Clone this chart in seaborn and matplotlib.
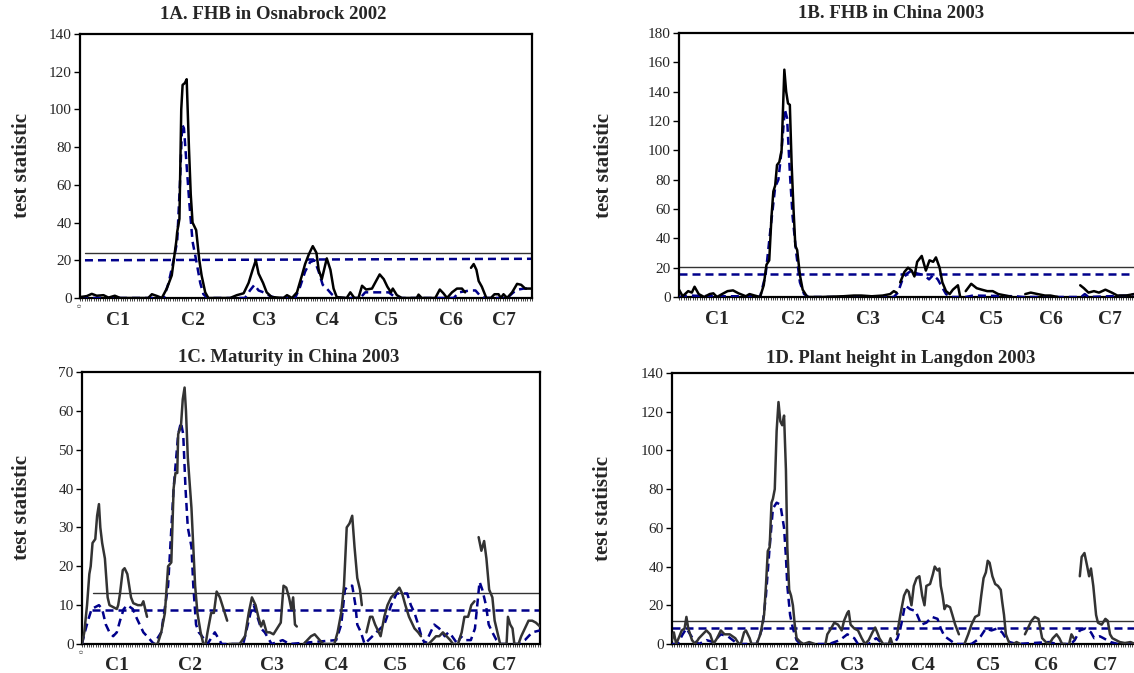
import numpy as np
import pandas as pd
import matplotlib
matplotlib.use("Agg")
import matplotlib.pyplot as plt
import matplotlib.transforms as mtransforms
import seaborn as sns

nan = np.nan

# ---------------- DATA (x = genome position, % of map; y = test statistic) ----------------
chrom_labels = ["C1", "C2", "C3", "C4", "C5", "C6", "C7"]

# Panel 1A
a_title = "1A. FHB in Osnabrock 2002"
a_solid_x = [0, 1.5, 2.6, 3.7, 5.2, 6.3, 7.7, 8.9, 15.1, 15.9, 17.1, 18.1, 19.2, 20.3, 21.3, 21.5, 22.0, 22.4,
             22.7, 23.2, 23.6, 24.1, 24.5, 24.9, 25.7, 26.4, 26.9, 27.7, 28.4, 33.2, 34.7, 36.2, 37.3, 38.2, 38.9,
             39.5, 40.5, 41.3, 42.4, 45.0, 45.8, 46.9, 48.0, 49.1, 49.8, 50.6, 51.5, 52.3, 52.8, 53.5, 54.1, 54.6,
             55.4, 56.1, 56.8, 59.0, 59.8, 60.7, 61.6, 62.4, 63.3, 64.6, 65.5, 66.3, 67.2, 68.0, 68.8, 69.2, 70.1,
             71.2, 74.5, 74.9, 75.6, 78.6, 79.6, 80.4, 81.2, 82.3, 83.4, 84.5, 85.2, nan,
             86.5, 87.1, 87.7, 88.2, 88.9, 89.9, 90.9, 91.7, 92.6, 93.1, 93.7, 94.5, 95.6, 96.7, 97.6, 98.5, 100]
a_solid_y = [0.5, 1, 2.2, 1.2, 1.5, 0.2, 1.2, 0, 0, 2, 1, 0, 5, 12, 30, 35, 42, 100,
             113, 114, 116, 80, 55, 40, 36, 20, 12, 3, 0, 0, 1.5, 2.5, 8, 15, 20,
             13, 8, 3, 0.5, 0, 1.5, 0, 3, 12, 18, 23, 27.5, 24, 15, 10, 16, 21,
             15, 5, 0.5, 0, 3, 0, 0, 6.5, 4.5, 5, 9, 12.5, 10, 6, 3, 5, 1.5,
             0, 0, 1.8, 0, 0, 4.5, 2.5, 0, 3, 5, 5, 3, nan,
             16, 18, 15, 9, 6, 0, 0, 2, 2, 0, 2, 0, 3, 7.5, 7, 5, 5]
a_blue_x = [0, 18.5, 19.6, 20.7, 21.5, 22.1, 22.6, 23.0, 23.6, 24.2, 24.9, 25.7, 26.6, 27.3, 28.2, 36.5, 37.6,
            38.6, 39.5, 40.6, 42.1, 43.5, 47.6, 48.7, 49.8, 50.9, 51.9, 52.8, 53.7, 54.6, 55.7, 56.8, 62.0, 63.1,
            65.7, 68.3, 69.4, 70.5, 82.7, 83.8, 86.3, 87.5, 88.6, 89.7, 94.5, 95.9, 97.0, 98.2, 100]
a_blue_y = [0, 0, 8, 20, 30, 60, 92, 90, 70, 50, 30, 20, 8, 2, 0, 0, 4,
            7, 4, 3, 1, 0, 0, 6, 14, 19, 20, 14, 7, 5, 2, 0, 0, 3,
            3, 3, 1, 0, 0, 3, 4, 4, 1, 0, 0, 3, 4.5, 5, 5]
a_thr_x = [1.1, 100]
a_thr_solid = [24, 24]
a_thr_dashed = [20, 20.8]

# Panel 1B
b_title = "1B. FHB in China 2003"
b_solid_x = [0, 0.8, 2.0, 2.8, 3.4, 4.3, 5.5, 6.7, 7.5, 8.3, 9.4, 10.6, 11.8, 13.0, 14.6, 15.4, 16.5, 17.7,
             18.5, 19.1, 19.7, 20.2, 20.6, 21.0, 21.4, 21.9, 22.4, 23.0, 23.4, 23.8, 24.2, 24.6, 25.0, 25.4,
             25.8, 26.4, 27.0, 28.0, 31.1, 35.8, 38.2, 39.8, 42.1, 44.5, 46.1, 46.9, 47.5, nan,
             48.3, 49.2, 50.0, 50.8, 51.4, 52.0, 53.0, 53.9, 54.7, 55.5, 56.1, 56.9, 57.5, 58.3, 59.1, 59.8,
             60.9, 61.4, nan,
             62.6, 63.8, 65.0, 66.1, 67.3, 68.5, 69.7, 71.3, 72.8, nan,
             75.6, 76.8, 78.3, 79.9, 81.1, 82.7, nan,
             87.6, 88.4, 89.4, 90.6, 91.7, 93.1, 94.5, 95.7, 97.6, 99.4]
b_solid_y = [5, 0.5, 4, 3, 7, 2, 0, 2, 2.5, 0, 2, 4, 4.5, 2.5, 0.5, 2, 1, 0,
             8, 22, 25, 55, 72, 76, 90, 92, 100, 155, 140, 132, 131, 90, 60, 35,
             32, 15, 5, 0, 0, 0.5, 1, 1, 0.5, 1, 2, 4, 3, nan,
             10, 17, 20, 18, 14, 24, 28, 18, 25, 24, 27, 20, 10, 4, 2, 5,
             8, 0, nan,
             4, 9, 6, 5, 4, 4, 2, 1, 0, nan,
             2, 3, 2, 1, 1, 0, nan,
             8, 6, 3, 4, 3, 5, 3, 1, 1, 2]
b_blue_x = [0, 2.0, 7.5, 15.4, 17.7, 18.9, 20.1, 21.0, 21.7, 22.4, 23.1, 23.6, 24.2, 24.8, 25.6, 26.4, 27.3,
            28.3, 46.9, 47.8, 48.8, 49.8, 50.8, 52.0, 53.5, 54.6, 55.5, 56.5, 57.2, 58.3, 59.4, 62.6, 64.2,
            73.5, 75.1, 87.8, 88.6, 89.4, 98.0, 99.4]
b_blue_y = [0, 1, 0.5, 0.5, 0, 15, 50, 75, 80, 100, 128, 122, 85, 55, 30, 10, 2,
            0, 0, 3, 12, 16, 18, 16, 15, 12, 15, 12, 8, 2, 0, 0, 1,
            0.5, 0, 0, 2, 0, 1, 2]
b_thr_x = [0, 100]
b_thr_solid = [20.5, 20.5]
b_thr_dashed = [16, 16]

# Panel 1C
c_title = "1C. Maturity in China 2003"
c_solid_x = [0, 0.5, 1.1, 1.6, 1.9, 2.3, 2.9, 3.3, 3.7, 4.0, 4.4, 5.0, 5.6, 6.0, 6.8, 7.6, 7.9, 8.3, 8.9,
             9.3, 9.9, 10.3, 10.7, 11.2, 12.2, 13.0, 13.4, 13.8, 14.2, nan,
             15.3, 16.5, 17.3, 18.1, 18.8, 19.5, 20.0, 20.4, 20.8, 21.0, 21.6, 22.0, 22.4, 22.7, 23.1, 23.9,
             24.3, 24.7, 25.2, 25.9, 26.5, 27.0, 27.4, 28.2, 28.8, 29.4, 30.1, 30.9, 31.7, nan,
             32.1, 34.4, 35.6, 36.4, 37.1, 37.9, 38.5, 39.1, 39.6, 40.3, 41.0, 41.8, 42.6, 43.4, 44.0, 44.6,
             45.2, 45.7, 46.1, 46.5, 46.9, nan,
             48.4, 50.0, 50.8, 51.9, 52.7, 55.1, 55.8, 56.6, 57.2, 57.8, 58.4, 59.0, 59.5, 60.1, 60.7, 61.1, nan,
             62.1, 62.9, 63.4, 64.0, 64.8, 65.2, 66.0, 66.7, 67.5, 68.3, 69.3, 69.9, 70.6, 71.4, 71.8, 72.6,
             73.4, 74.0, nan,
             74.9, 75.7, 76.5, 77.3, 78.0, 78.8, 79.6, 80.4, 81.0, 82.1, 82.9, 83.5, 84.3, 85.0, 85.7, nan,
             86.6, 87.2, 87.8, 88.3, 88.9, 89.6, 90.1, 90.7, 91.3, 92.7, 93.0, 93.5, 94.0, 94.4, 95.3, 95.9,
             96.7, 97.5, 98.3, 99.1, 100]
c_solid_y = [0, 3, 10, 18, 20, 26, 27, 33, 36, 30, 26, 22, 12, 10, 9.5, 9, 10, 13, 19,
             19.5, 18, 15, 12, 10.5, 10, 10, 11, 9, 7, nan,
             0, 0, 3, 8, 20, 21, 40, 44, 44, 54, 56, 63, 66, 60, 48, 35,
             25, 15, 8, 3, 0, 0, 3, 8, 8, 13.5, 12, 9, 6, nan,
             0, 0, 2, 8, 12, 10, 7, 4.5, 6, 3, 3, 2.5, 4, 5.5, 15, 14.5,
             12, 9, 12, 5, 4.5, nan,
             0, 2, 2.5, 1, 0, 0, 3, 8, 15, 30, 31, 33, 25, 17, 14, 10, nan,
             3, 7, 7, 5, 3, 2, 7, 10, 12, 13, 14.5, 13, 10, 7, 6, 4,
             3, 2, nan,
             0, 0, 1, 2, 2, 3, 2, 1, 0, 0, 3, 7, 7, 10, 11, nan,
             27.5, 24, 26.5, 22, 14, 12, 6, 3, 0, 0, 7, 5, 4, 0, 0, 2,
             4, 6, 6, 5.5, 4.5]
c_blue_x = [0, 0.5, 1.3, 2.1, 3.7, 4.4, 5.2, 6.0, 6.8, 7.6, 8.3, 9.1, 9.9, 11.1, 11.8, 12.6, 13.4, 14.2,
            15.7, 17.3, 18.8, 20.0, 21.0, 21.6, 22.1, 22.6, 23.1, 23.9, 24.3, 24.9, 25.5, 26.2, 27.4, 29.0,
            30.5, 35.2, 36.8, 37.5, 38.3, 39.1, 39.9, 41.4, 43.8, 45.3, 55.5, 56.6, 57.4, 58.2, 59.0, 59.7,
            60.1, 60.9, 61.7, 66.0, 67.5, 68.7, 69.9, 71.0, 71.8, 72.6, 73.4, 74.1, 74.9, 75.7, 76.9, 78.0,
            79.2, 80.0, 80.8, 82.0, 82.7, 83.5, 84.9, 85.8, 86.8, 87.4, 88.2, 88.8, 89.6, 90.5, 91.3, 95.2,
            96.7, 98.3, 100]
c_blue_y = [0, 2.5, 6, 9, 10, 9, 5, 3, 2, 3, 6, 9, 10, 9, 7, 5, 3, 2,
            0, 3, 15, 40, 54, 57, 54, 40, 30, 25, 15, 5, 3, 2, 0, 3,
            0, 0, 8, 10, 7, 4, 3, 0, 1, 0, 1, 5, 14, 15, 15, 10,
            5, 3, 0, 5, 10, 13, 13, 13, 10, 8, 5, 2, 0, 2, 5, 4,
            2, 3, 2, 0, 2, 1, 1, 4, 16, 14, 10, 5, 3, 1, 0, 0,
            1, 3, 3.5]
c_thr_solid_x = [2.5, 100]
c_thr_dashed_x = [2.1, 100]
c_thr_solid = [13, 13]
c_thr_dashed = [8.7, 8.7]

# Panel 1D
d_title = "1D. Plant height in Langdon 2003"
d_solid_x = [0, 0.4, 0.9, 1.6, 2.1, 2.7, 3.1, 3.5, 4.3, 5.0, 5.8, 6.6, 7.4, 8.2, 8.9, 9.7, 10.5, 11.3,
             12.4, 13.6, 14.4, 14.8, 15.5, 15.9, 16.7, 17.1, 18.2, 19.0, 19.8, 20.2, 20.6, 21.0, 21.4, 21.7,
             22.1, 22.5, 22.9, 23.3, 23.7, 24.1, 24.5, 24.8, 25.2, 25.6, 26.0, 26.4, 26.8, 27.6, 28.3, 29.5,
             30.7, nan,
             33.0, 33.4, 34.2, 34.9, 35.7, 36.5, 37.0, 37.7, 38.0, 38.4, 39.2, 40.0, 40.8, 41.5, 42.3, 43.1,
             43.7, 44.3, 44.6, 45.4, 46.2, nan, 46.6, 47.0, 47.4, nan,
             48.4, 49.1, 49.9, 50.5, 50.9, 51.5, 52.0, 52.6, 53.2, 53.8, 54.3, 54.7, 55.5, 56.1, 56.5, 57.1,
             57.5, 57.8, 58.2, 58.6, 59.0, 59.8, 60.3, 60.9, 61.7, nan,
             62.9, 63.7, 64.4, 65.2, 66.0, 66.5, 67.0, 67.5, 67.9, 68.3, 68.9, 69.5, 70.1, 70.7, 71.0, 71.4,
             71.8, 72.6, 73.4, 74.1, 74.9, nan,
             75.9, 76.5, 77.3, 78.0, 78.8, 79.2, 79.6, 80.4, 81.1, 81.9, 82.7, 83.3, 83.9, 84.6, nan,
             85.4, 85.9, 86.4, nan,
             87.7, 88.1, 88.7, 89.3, 89.7, 90.1, 90.6, 91.2, 91.6, 92.4, 93.2, 93.7, 94.2, 94.7, 95.5, 96.3,
             97.4, 98.6, 99.6]
d_solid_y = [2, 6, 0, 4, 7, 8, 14, 8, 2, 0, 3, 5, 7, 5, 0, 3, 7, 5,
             5, 3, 0, 0, 6, 7, 3, 0, 0, 5, 15, 30, 48, 50, 73, 75,
             80, 110, 125, 115, 113, 118, 90, 50, 28, 25, 20, 10, 3, 1, 0, 1,
             0, nan,
             0, 5, 8, 11, 10, 7, 12, 16, 17, 10, 8, 7, 3, 0, 2, 6,
             8.5, 5, 3, 0, 0, nan, 0, 3, 0, nan,
             5, 15, 25, 28, 27, 20, 30, 34, 35, 25, 20, 30, 31, 36, 40, 38,
             39, 30, 25, 18, 20, 19, 15, 10, 5, nan,
             0, 5, 10, 14, 15, 25, 34, 37, 43, 42, 35, 31, 30, 28, 22, 15,
             5, 0, 0, 1, 0, nan,
             5, 8, 12, 14, 13, 8, 3, 1, 0, 3, 5, 3, 0, 0, nan,
             0, 5, 3, nan,
             35, 45, 47, 40, 35, 39, 30, 15, 11, 10, 13, 12, 5, 3, 2, 1,
             0.5, 1, 0]
d_blue_x = [0, 1.2, 2.3, 3.1, 3.9, 4.7, 5.8, 7.4, 8.9, 10.5, 12.0, 13.6, 15.1, 18.2, 19.4, 20.2, 21.0, 21.7,
            22.5, 23.3, 24.1, 24.5, 24.8, 25.4, 26.0, 26.8, 27.6, 33.8, 36.1, 37.7, 39.2, 40.0, 42.3, 43.9,
            45.4, 47.7, 48.5, 49.3, 50.1, 51.2, 52.4, 53.6, 54.7, 55.9, 57.1, 57.8, 58.6, 59.8, 60.9, 64.4,
            65.6, 66.4, 67.5, 68.7, 69.9, 71.0, 71.8, 72.6, 74.1, 81.1, 82.7, 85.8, 86.6, 87.7, 88.9, 90.1,
            90.8, 92.0, 92.8, 94.3, 95.9, 99.6]
d_blue_y = [0, 0, 5, 8, 5, 2, 0, 2, 1, 5, 4, 1, 0, 0, 8, 25, 50, 70,
            73, 72, 60, 45, 30, 15, 8, 2, 0, 0, 2, 5, 3, 0, 0, 3,
            0, 0, 3, 10, 20, 18, 17, 10, 11, 14, 13, 8, 4, 2, 0, 0,
            2, 4, 8, 7, 8, 6, 3, 1, 0, 1, 0, 0, 2, 7, 8, 6,
            3, 4, 3, 1, 0, 0]
d_thr_x = [0, 100]
d_thr_solid = [12, 12]
d_thr_dashed = [8.3, 8.3]

# ---------------- STYLE ----------------
sns.set_theme(style="white")
plt.rcParams["font.family"] = ["Liberation Serif", "DejaVu Serif"]

fig = plt.figure(figsize=(11.34, 6.73), dpi=100)

NAVY = "#00008B"


def to_df(xs, ys):
    df = pd.DataFrame({"x": xs, "y": ys})
    df["seg"] = df["x"].isna().cumsum()
    return df.dropna()


def panel(rect, title, title_x, title_pad, ylim, ystep, solid, blue, thr, chrom_x, chrom_pad,
          solid_color, label_x, zero_tick=False):
    ax = fig.add_axes(rect)
    sdf = to_df(*solid)
    bdf = to_df(*blue)
    (ts_x, ts_y), (td_x, td_y) = thr
    ax.plot(ts_x, ts_y, color="#333333", lw=1.0, zorder=2)
    ax.plot(td_x, td_y, color=NAVY, lw=1.8, linestyle=(0, (3.2, 2.0)), zorder=2)
    sns.lineplot(data=bdf, x="x", y="y", units="seg", estimator=None, sort=False,
                 color=NAVY, lw=1.8, linestyle=(0, (3.2, 2.0)), ax=ax, zorder=3)
    sns.lineplot(data=sdf, x="x", y="y", units="seg", estimator=None, sort=False,
                 color=solid_color, lw=1.8, ax=ax, zorder=4)
    ax.set_xlim(0, 100)
    ax.set_ylim(*ylim)
    ax.set_yticks(np.arange(ylim[0], ylim[1] + 0.1, ystep))
    ax.set_xticks(chrom_x)
    ax.set_xticklabels(chrom_labels, fontweight="bold", fontsize=14)
    ax.set_xticks(np.arange(0, 100.01, 0.5), minor=True)
    ax.tick_params(axis="x", which="major", length=0, pad=chrom_pad)
    ax.tick_params(axis="x", which="minor", length=1.8, width=0.5, color="black", direction="out",
                   bottom=True)
    ax.tick_params(axis="y", which="major", length=4, width=1, color="black", direction="out",
                   left=True, labelsize=11, pad=2)
    ax.set_xlabel("")
    ax.set_ylabel("test statistic", fontweight="bold", fontsize=15)
    ax.yaxis.set_label_coords(label_x, 0.5)
    ax.set_title(title, fontweight="bold", fontsize=13.5, x=title_x, pad=title_pad)
    for s in ax.spines.values():
        s.set_visible(True)
        s.set_color("black")
        s.set_linewidth(1.6)
    ax.set_facecolor("white")
    if zero_tick:
        trans = mtransforms.blended_transform_factory(ax.transData, ax.transAxes)
        ax.text(0, -0.022, "0", transform=trans, rotation=90, fontsize=5, ha="center", va="top")
    return ax


panel([80 / 1134, 1 - 298 / 673, 452 / 1134, 264 / 673], a_title, 0.427, 11, (0, 140), 20,
      (a_solid_x, a_solid_y), (a_blue_x, a_blue_y),
      ((a_thr_x, a_thr_solid), (a_thr_x, a_thr_dashed)),
      [8.3, 25.0, 40.8, 54.7, 67.7, 82.0, 93.9], 10, "black", -0.106, zero_tick=True)

panel([679 / 1134, 1 - 297 / 673, 458 / 1134, 264 / 673], b_title, 0.463, 11, (0, 180), 20,
      (b_solid_x, b_solid_y), (b_blue_x, b_blue_y),
      ((b_thr_x, b_thr_solid), (b_thr_x, b_thr_dashed)),
      [8.3, 24.8, 41.3, 55.5, 68.1, 81.1, 94.1], 10, "black", -0.142)

panel([82 / 1134, 1 - 644 / 673, 458 / 1134, 272 / 673], c_title, 0.452, 7, (0, 70), 10,
      (c_solid_x, c_solid_y), (c_blue_x, c_blue_y),
      ((c_thr_solid_x, c_thr_solid), (c_thr_dashed_x, c_thr_dashed)),
      [7.6, 23.5, 41.4, 55.5, 68.3, 81.2, 92.1], 9, "#333333", -0.109, zero_tick=True)

panel([672 / 1134, 1 - 644 / 673, 465 / 1134, 271 / 673], d_title, 0.492, 7, (0, 140), 20,
      (d_solid_x, d_solid_y), (d_blue_x, d_blue_y),
      ((d_thr_x, d_thr_solid), (d_thr_x, d_thr_dashed)),
      [9.7, 24.8, 38.8, 54.0, 67.9, 80.4, 93.2], 9, "#333333", -0.127)

fig.savefig("out.png", dpi=100, facecolor="white")
